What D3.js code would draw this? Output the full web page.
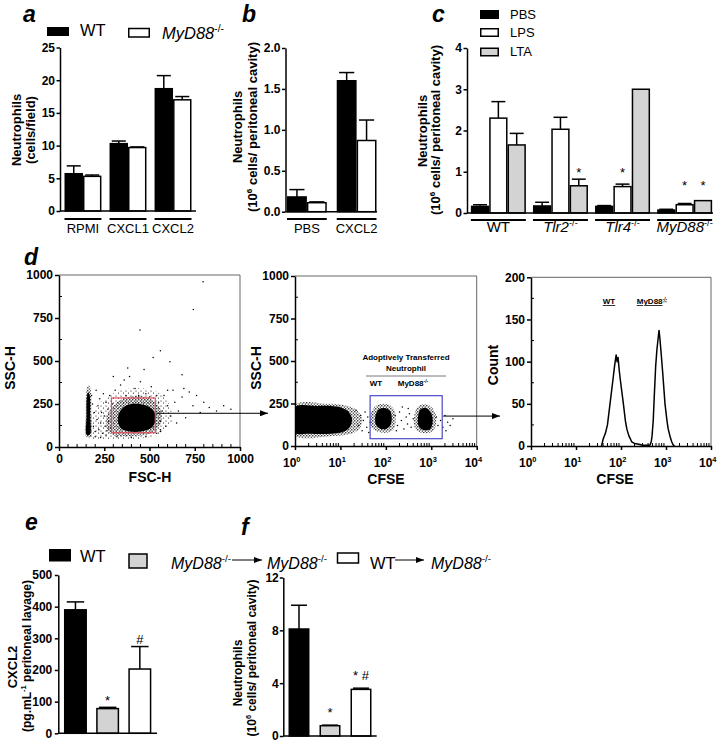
<!DOCTYPE html>
<html><head><meta charset="utf-8">
<script src="https://cdn.jsdelivr.net/npm/d3@7"></script>
<style>body{margin:0;background:#fff}</style>
</head><body><script>
// ================= DATA =================
// Panel a
const aGroups = ["RPMI","CXCL1","CXCL2"];
const aSeries = ["WT","MyD88"];
const aWT = [5.7,10.3,18.7];
const aMyD = [5.3,9.7,17.0];
const aWTerr = [6.9,10.7,20.7];
const aMyDerr = [5.5,9.8,17.5];
const aTicks = [0,5,10,15,20,25];
// Panel b
const bGroups = ["PBS","CXCL2"];
const bWT = [0.18,1.60];
const bMyD = [0.11,0.87];
const bWTerr = [0.27,1.70];
const bMyDerr = [0.12,1.12];
const bTicks = [0,0.5,1.0,1.5,2.0];
// Panel c
const cGroups = ["WT","Tlr2","Tlr4","MyD88"];
const cSeries = ["PBS","LPS","LTA"];
const cPBS = [0.16,0.17,0.16,0.07];
const cLPS = [2.30,2.03,0.64,0.20];
const cLTA = [1.65,0.66,3.00,0.30];
const cPBSerr = [0.20,0.26,0.18,0.09];
const cLPSerr = [2.70,2.32,0.70,0.23];
const cLTAerr = [1.93,0.82,3.00,0.30];
const cStarLPS = [null,null,0.87,0.56];
const cStarLTA = [null,0.87,null,0.56];
const cTicks = [0,1,2,3,4];
// Panel d - dot plot 1 (FSC-H vs SSC-H)
const p1Ticks = [0,250,500,750,1000];
const p1StreakCore = [[153,72],[171,72],[173,180],[170,300],[162,318],[155,300],[152,180]];
const p1StreakHalo = [[150,58],[176,60],[179,200],[175,335],[164,360],[153,335],[148,200]];
const p1Halo1 = [[178,55],[300,42],[450,48],[560,78],[625,150],[600,265],[520,330],[400,342],[300,312],[230,262],[182,200]];
const p1Halo2 = [[290,72],[400,64],[520,84],[566,150],[552,240],[472,292],[370,286],[300,242],[262,172],[266,100]];
const p1Core = [[340,110],[390,90],[460,92],[515,115],[535,165],[520,215],[470,245],[400,250],[350,225],[325,170]];
const p1Dots = [[180,300],[185,250],[190,120],[195,200],[200,90],[205,330],[210,160],[215,240],[220,100],[225,280],[230,140],[235,200],[240,80],[245,310],[250,180],[255,120],[260,260],[265,95],[270,220],[275,150],[280,300],[285,110],[290,190],[295,250],[200,60],[230,55],[260,70],
 [310,330],[340,360],[370,300],[390,410],[420,340],[450,380],[480,310],[510,350],[540,300],[360,390],[440,300],[500,290],
 [550,260],[560,150],[570,210],[580,300],[590,120],[600,240],[615,180],[630,330],[640,260],[650,140],[660,210],[680,290],[700,170],[720,320],[740,240],[760,300],[780,200],[800,260],[830,230],[870,210],[910,240],[950,220],[560,100],[600,330],[690,340],
 [796,961],[742,800],[447,680],[613,496],[520,520],[470,450],[380,460],[300,410],[680,420],[560,560],
 [320,60],[400,55],[480,60],[540,80],[560,90]];
const p1Gate = [290,532,83,285];
// Panel d - dot plot 2 (CFSE vs SSC-H)
const p2XTicks = [1,10,100,1000,10000];
const p2XExp = ["0","1","2","3","4"];
const p2YTicks = [0,250,500,750,1000];
const p2BigCore = [[1,78],[1,228],[3,236],[7,234],[11,224],[15,202],[18,160],[16,110],[12,85],[6,72],[2,72]];
const p2BigHalo = [[1,62],[1,242],[5,248],[12,240],[22,215],[30,160],[26,100],[16,70],[6,58]];
const p2WTCore = [[58,150],[62,195],[75,220],[100,222],[125,205],[135,165],[125,120],[100,100],[75,102],[62,120]];
const p2WTHalo = [[45,140],[50,210],[70,245],[110,245],[150,215],[165,160],[150,100],[110,80],[70,82],[50,105]];
const p2MyDCore = [[520,120],[510,170],[560,210],[700,225],[900,210],[1050,175],[1060,130],[950,100],[750,92],[600,100]];
const p2MyDHalo = [[430,110],[420,170],[480,225],[700,245],[1000,230],[1250,185],[1250,120],[1050,85],[750,75],[520,85]];
const p2Dots = [[22,210],[25,120],[28,180],[30,90],[32,150],[35,200],[38,110],[40,170],[42,80],[45,140],[160,180],[180,120],[200,200],[220,150],[250,100],[280,170],[300,130],[330,190],[360,110],[400,160],[1300,170],[1400,120],[1600,150],[1800,110],[2000,180],[2300,140],[2600,120],[3000,160],[170,90],[230,230],[310,220],[2100,90]];
const p2Gate = [45,1740,43,296];
// Panel d - histogram
const p3YTicks = [0,50,100,150,200];
const histCFSE = [37,40,45,50,57,65,72,78,82,86,92,100,113,125,135,150,173,200,250,300,380,440,470,490,520,550,590,630,670,700,730,780,850,950,1050,1120,1250,1340,1450,1550];
const histCount = [0,8,15,25,50,75,95,108,100,105,88,72,50,30,20,12,5,3,2,1,1,1,5,12,30,60,95,115,128,137,128,110,85,50,30,20,10,5,1,0];
// Panel e
const eGroups = ["WT","MyD88>MyD88","WT>MyD88"];
const eValues = [390,78,203];
const eErr = [415,82,274];
const eMarks = ["","*","#"];
const eMarkLevel = [null,88,282];
const eTicks = [0,100,200,300,400,500];
// Panel f
const fValues = [8.1,0.78,3.53];
const fErr = [9.9,0.82,3.62];
const fMarks = ["","*","* #"];
const fMarkLevel = [null,1.41,4.22];
const fTicks = [0,4,8,12];

// ================= DRAW =================
const FONT = '"Liberation Sans", Arial, sans-serif';
const svg = d3.select("body").append("svg").attr("width",723).attr("height",744);
const defs = svg.append("defs");
defs.append("marker").attr("id","arr").attr("viewBox","0 0 8 6").attr("refX",8).attr("refY",3)
  .attr("markerWidth",8).attr("markerHeight",6).attr("markerUnits","userSpaceOnUse").attr("orient","auto")
  .append("path").attr("d","M0,0L8,3L0,6Z").attr("fill","#000");
// speckle textures to imitate scattered events
const sp1=defs.append("pattern").attr("id","sp1").attr("width",5).attr("height",5).attr("patternUnits","userSpaceOnUse");
[[1,1],[3.5,3]].forEach(p=>sp1.append("circle").attr("cx",p[0]).attr("cy",p[1]).attr("r",0.55).attr("fill","#000"));
const sp2=defs.append("pattern").attr("id","sp2").attr("width",3).attr("height",3).attr("patternUnits","userSpaceOnUse");
[[0.8,0.8],[2.3,2.1]].forEach(p=>sp2.append("circle").attr("cx",p[0]).attr("cy",p[1]).attr("r",0.7).attr("fill","#000"));

function rich(x,y,parts,o={}){
  const size=o.size||12;
  const t=svg.append("text").attr("font-family",FONT).attr("font-size",size)
    .attr("font-weight",o.bold?"bold":"normal").attr("text-anchor",o.anchor||"start").attr("fill","#000");
  if(o.rotate) t.attr("transform",`translate(${x},${y}) rotate(-90)`); else t.attr("x",x).attr("y",y);
  if(o.ul) t.attr("text-decoration","underline");
  let up=false;
  (Array.isArray(parts)?parts:[parts]).forEach(p=>{
    if(typeof p==="string") p={t:p};
    const ts=t.append("tspan");
    if(p.sup!==undefined){ ts.text(p.sup).attr("font-size",size*0.62); if(!up){ts.attr("dy",-size*0.42); up=true;} }
    else { ts.text(p.t); if(p.it) ts.attr("font-style","italic"); if(up){ts.attr("dy",size*0.42); up=false;} }
  });
  return t;
}
function letter(x,y,s){ svg.append("text").attr("x",x).attr("y",y).attr("font-family",FONT).attr("font-size",23)
  .attr("font-weight","bold").attr("font-style","italic").text(s); }
function styleAxis(g,fs){
  g.select(".domain").attr("stroke","#000").attr("stroke-width",1.5);
  g.selectAll(".tick line").attr("stroke","#000").attr("stroke-width",1.5);
  g.selectAll(".tick text").attr("font-family",FONT).attr("font-weight","bold").attr("font-size",fs).attr("fill","#000");
}
function barChart(o){
  const xg=d3.scaleBand().domain(o.groups).range(o.xr).paddingInner(o.pi).paddingOuter(o.po);
  const xs=d3.scaleBand().domain(o.series).range([0,xg.bandwidth()]);
  const y=d3.scaleLinear().domain(o.yd).range(o.yr);
  const g=svg.append("g");
  o.series.forEach((s,j)=>{
    o.groups.forEach((gr,i)=>{
      const v=o.values[j][i], e=o.errs[j][i];
      const bw=xs.bandwidth(), bx=xg(gr)+xs(s), cx=bx+bw/2;
      if(e>v){
        g.append("line").attr("x1",cx).attr("x2",cx).attr("y1",y(v)).attr("y2",y(e)).attr("stroke","#000").attr("stroke-width",1.5);
        g.append("line").attr("x1",cx-bw*0.38).attr("x2",cx+bw*0.38).attr("y1",y(e)).attr("y2",y(e)).attr("stroke","#000").attr("stroke-width",1.5);
      }
      g.append("rect").attr("x",bx+0.75).attr("y",y(v)).attr("width",bw-1.5).attr("height",Math.max(0,y(0)-y(v)))
        .attr("fill",o.color(j,i)).attr("stroke","#000").attr("stroke-width",1.5);
    });
  });
  const ax=g.append("g").attr("transform",`translate(${o.xr[0]},0)`)
    .call(d3.axisLeft(y).tickValues(o.ticks).tickFormat(o.fmt).tickSize(3.5).tickSizeOuter(0).tickPadding(o.tp||1.5));
  styleAxis(ax,o.fs||12);
  g.append("line").attr("x1",o.xr[0]).attr("x2",o.baseEnd).attr("y1",y(0)).attr("y2",y(0)).attr("stroke","#000").attr("stroke-width",1.5);
  if(o.ulY){
    o.groups.forEach(gr=>{
      g.append("line").attr("x1",xg(gr)).attr("x2",xg(gr)+xg.bandwidth()).attr("y1",o.ulY).attr("y2",o.ulY).attr("stroke","#000").attr("stroke-width",2);
    });
  }
  return {xg,xs,y};
}

// ---------- Panel a ----------
letter(23,22,"a");
svg.append("rect").attr("x",47).attr("y",27).attr("width",22).attr("height",9).attr("fill","#000");
rich(80,36,"WT",{size:16.5});
svg.append("rect").attr("x",128.75).attr("y",28.5).attr("width",20.5).attr("height",8.5).attr("fill","#fff").attr("stroke","#000").attr("stroke-width",1.5);
rich(162,39,[{t:"MyD88",it:1},{sup:"-/-"}],{size:16.5});
const A=barChart({groups:aGroups,series:aSeries,values:[aWT,aMyD],errs:[aWTerr,aMyDerr],
  color:(j)=>j===0?"#000":"#fff",xr:[60,196],pi:0.18,po:0.1,yd:[0,25],yr:[211,47.5],ticks:aTicks,fmt:d3.format("d"),baseEnd:196,ulY:219});
aGroups.forEach(gr=>rich(A.xg(gr)+A.xg.bandwidth()/2,233,gr,{size:13,anchor:"middle"}));
rich(21,130,"Neutrophils",{rotate:1,bold:1,size:13,anchor:"middle"});
rich(35,130,"(cells/field)",{rotate:1,bold:1,size:13,anchor:"middle"});

// ---------- Panel b ----------
letter(242,22,"b");
const B=barChart({groups:bGroups,series:aSeries,values:[bWT,bMyD],errs:[bWTerr,bMyDerr],
  color:(j)=>j===0?"#000":"#fff",xr:[285.5,378],pi:0.2,po:0.03,yd:[0,2],yr:[211.7,48],ticks:bTicks,fmt:d3.format(".1f"),baseEnd:377,ulY:219});
bGroups.forEach(gr=>rich(B.xg(gr)+B.xg.bandwidth()/2,233,gr,{size:13,anchor:"middle"}));
rich(242,127,"Neutrophils",{rotate:1,bold:1,size:13,anchor:"middle"});
rich(257,127,["(10",{sup:"6"}," cells/ peritoneal cavity)"],{rotate:1,bold:1,size:13,anchor:"middle"});

// ---------- Panel c ----------
letter(432,22,"c");
const cFill=["#000","#fff","#d3d3d3"];
const cLegY=[10,28,47.5];
cSeries.forEach((s,j)=>{
  svg.append("rect").attr("x",480.75).attr("y",cLegY[j]+0.75).attr("width",17.5).attr("height",7.5).attr("fill",cFill[j]).attr("stroke","#000").attr("stroke-width",1.5);
  rich(510,cLegY[j]+8.5,s,{size:13});
});
const C=barChart({groups:cGroups,series:cSeries,values:[cPBS,cLPS,cLTA],errs:[cPBSerr,cLPSerr,cLTAerr],
  color:(j)=>cFill[j],xr:[467,716],pi:0.114,po:0.062,yd:[0,4],yr:[213,48],ticks:cTicks,fmt:d3.format("d"),baseEnd:713,ulY:220});
cGroups.forEach((gr,i)=>{
  [[cStarLPS,"LPS"],[cStarLTA,"LTA"]].forEach(([arr,s])=>{
    if(arr[i]!=null) rich(C.xg(gr)+C.xs(s)+C.xs.bandwidth()/2,C.y(arr[i]),"*",{size:13,anchor:"middle"});
  });
});
const cLabels=[["WT"],[{t:"Tlr2",it:1},{sup:"-/-"}],[{t:"Tlr4",it:1},{sup:"-/-"}],[{t:"MyD88",it:1},{sup:"-/-"}]];
cGroups.forEach((gr,i)=>rich(C.xg(gr)+C.xg.bandwidth()/2,232,cLabels[i],{size:15,anchor:"middle"}));
rich(427,131,"Neutrophils",{rotate:1,bold:1,size:13,anchor:"middle"});
rich(440,130,["(10",{sup:"6"}," cells/ peritoneal cavity)"],{rotate:1,bold:1,size:13,anchor:"middle"});

// ---------- Panel d ----------
letter(24,265,"d");
const blobLine=(x,y)=>d3.line().curve(d3.curveCatmullRomClosed).x(d=>x(d[0])).y(d=>y(d[1]));
function frame(x,y,id){
  const [x0,x1]=x.range(), [y0,y1]=y.range();
  defs.append("clipPath").attr("id",id).append("rect").attr("x",x0).attr("y",y1).attr("width",x1-x0).attr("height",y0-y1);
  svg.append("line").attr("x1",x0).attr("x2",x1).attr("y1",y1).attr("y2",y1).attr("stroke","#666").attr("stroke-width",1);
  svg.append("line").attr("x1",x1).attr("x2",x1).attr("y1",y1).attr("y2",y0).attr("stroke","#666").attr("stroke-width",1);
  return svg.append("g").attr("clip-path",`url(#${id})`);
}
function minorY(x,y,vals){
  vals.forEach(v=>svg.append("line").attr("x1",x.range()[0]).attr("x2",x.range()[0]+3).attr("y1",y(v)).attr("y2",y(v)).attr("stroke","#000").attr("stroke-width",1));
}
function minorX(x,y,vals){
  vals.forEach(v=>svg.append("line").attr("x1",x(v)).attr("x2",x(v)).attr("y1",y.range()[0]).attr("y2",y.range()[0]-3).attr("stroke","#000").attr("stroke-width",1));
}
function logMinor(){ const m=[]; [1,10,100,1000].forEach(d=>{for(let k=2;k<=9;k++) m.push(d*k);}); return m; }
function logLabels(x,yb){
  p2XTicks.forEach((v,i)=>rich(x(v)-12,yb,["10",{sup:p2XExp[i]}],{size:12,bold:1}));
}
const fmtInt=d3.format("d");

// plot 1
const x1=d3.scaleLinear().domain([0,1000]).range([59,240]);
const y1=d3.scaleLinear().domain([0,1000]).range([447,275]);
const g1=frame(x1,y1,"c1");
const bl1=blobLine(x1,y1);
g1.append("path").attr("d",bl1(p1Halo1)).attr("fill","url(#sp1)");
g1.append("path").attr("d",bl1(p1Halo2)).attr("fill","url(#sp2)");
g1.append("path").attr("d",bl1(p1StreakHalo)).attr("fill","url(#sp2)");
g1.append("path").attr("d",bl1(p1StreakCore)).attr("fill","#000");
g1.append("path").attr("d",bl1(p1Core)).attr("fill","#000");
g1.selectAll("circle.d").data(p1Dots).enter().append("circle").attr("cx",d=>x1(d[0])).attr("cy",d=>y1(d[1])).attr("r",0.75).attr("fill","#000");
svg.append("rect").attr("x",x1(p1Gate[0])).attr("y",y1(p1Gate[3])).attr("width",x1(p1Gate[1])-x1(p1Gate[0])).attr("height",y1(p1Gate[2])-y1(p1Gate[3]))
  .attr("fill","none").attr("stroke","#e0505f").attr("stroke-width",1.2);
let ax1=svg.append("g").attr("transform","translate(59,0)").call(d3.axisLeft(y1).tickValues(p1Ticks).tickFormat(fmtInt).tickSize(4).tickSizeOuter(0).tickPadding(2));
styleAxis(ax1,12);
let bx1=svg.append("g").attr("transform","translate(0,447)").call(d3.axisBottom(x1).tickValues(p1Ticks).tickFormat(fmtInt).tickSize(4).tickSizeOuter(0).tickPadding(3));
styleAxis(bx1,12);
minorY(x1,y1,[125,375,625,875]);
minorX(x1,y1,d3.range(50,1000,50).filter(v=>v%250!==0));
rich(15,368,"SSC-H",{rotate:1,bold:1,size:14,anchor:"middle"});
rich(150,482,"FSC-H",{bold:1,size:14,anchor:"middle"});

// plot 2
const x2=d3.scaleLog().domain([1,10000]).range([295,476.7]);
const y2=d3.scaleLinear().domain([0,1000]).range([446,276]);
const g2=frame(x2,y2,"c2");
const bl2=blobLine(x2,y2);
g2.append("path").attr("d",bl2(p2BigHalo)).attr("fill","url(#sp2)");
g2.append("path").attr("d",bl2(p2WTHalo)).attr("fill","url(#sp2)");
g2.append("path").attr("d",bl2(p2MyDHalo)).attr("fill","url(#sp2)");
g2.append("path").attr("d",bl2(p2BigCore)).attr("fill","#000");
g2.append("path").attr("d",bl2(p2WTCore)).attr("fill","#000");
g2.append("path").attr("d",bl2(p2MyDCore)).attr("fill","#000");
g2.selectAll("circle.d").data(p2Dots).enter().append("circle").attr("cx",d=>x2(d[0])).attr("cy",d=>y2(d[1])).attr("r",0.75).attr("fill","#000");
svg.append("rect").attr("x",x2(p2Gate[0])).attr("y",y2(p2Gate[3])).attr("width",x2(p2Gate[1])-x2(p2Gate[0])).attr("height",y2(p2Gate[2])-y2(p2Gate[3]))
  .attr("fill","none").attr("stroke","#4a4ac8").attr("stroke-width",1.2);
let ax2=svg.append("g").attr("transform","translate(295,0)").call(d3.axisLeft(y2).tickValues(p2YTicks).tickFormat(fmtInt).tickSize(4).tickSizeOuter(0).tickPadding(2));
styleAxis(ax2,12);
let bx2=svg.append("g").attr("transform","translate(0,446)").call(d3.axisBottom(x2).tickValues(p2XTicks).tickFormat("").tickSize(4).tickSizeOuter(0));
styleAxis(bx2,12);
minorY(x2,y2,[125,375,625,875]);
minorX(x2,y2,logMinor());
logLabels(x2,467);
rich(261,368,"SSC-H",{rotate:1,bold:1,size:14,anchor:"middle"});
rich(386,484,"CFSE",{bold:1,size:14,anchor:"middle"});
rich(406,360,"Adoptively Transferred",{bold:1,size:8,anchor:"middle"});
rich(406,371,"Neutrophil",{bold:1,size:8,anchor:"middle"});
svg.append("line").attr("x1",366).attr("x2",446).attr("y1",376).attr("y2",376).attr("stroke","#555").attr("stroke-width",0.8);
rich(376,386,"WT",{bold:1,size:8,anchor:"middle"});
rich(413,386,["MyD88",{sup:"-/-"}],{bold:1,size:8,anchor:"middle"});

// plot 3
const x3=d3.scaleLog().domain([1,10000]).range([531,711]);
const y3=d3.scaleLinear().domain([0,200]).range([446,277.3]);
const g3=frame(x3,y3,"c3");
const hist=histCFSE.map((c,i)=>[c,histCount[i]]);
g3.append("path").attr("d",d3.line().x(d=>x3(d[0])).y(d=>y3(d[1]))(hist)).attr("fill","none").attr("stroke","#000").attr("stroke-width",1.5).attr("stroke-linejoin","round");
let ax3=svg.append("g").attr("transform","translate(531,0)").call(d3.axisLeft(y3).tickValues(p3YTicks).tickFormat(fmtInt).tickSize(4).tickSizeOuter(0).tickPadding(2));
styleAxis(ax3,12);
let bx3=svg.append("g").attr("transform","translate(0,446)").call(d3.axisBottom(x3).tickValues(p2XTicks).tickFormat("").tickSize(4).tickSizeOuter(0));
styleAxis(bx3,12);
minorY(x3,y3,[25,75,125,175]);
minorX(x3,y3,logMinor());
logLabels(x3,467);
rich(498,365,"Count",{rotate:1,bold:1,size:14,anchor:"middle"});
rich(615,484,"CFSE",{bold:1,size:14,anchor:"middle"});
rich(609,304,"WT",{bold:1,size:8,anchor:"middle",ul:1});
rich(652,304,["MyD88",{sup:"-/-"}],{bold:1,size:8,anchor:"middle",ul:1});

// arrows
svg.append("line").attr("x1",x1(p1Gate[1])+1).attr("x2",268).attr("y1",y1(196)).attr("y2",y1(196)).attr("stroke","#000").attr("stroke-width",1).attr("marker-end","url(#arr)");
svg.append("line").attr("x1",x2(p2Gate[1])+1).attr("x2",500).attr("y1",y2(176)).attr("y2",y2(176)).attr("stroke","#000").attr("stroke-width",1).attr("marker-end","url(#arr)");

// ---------- Panel e ----------
letter(25,530,"e");
const efFill=["#000","#d3d3d3","#fff"];
svg.append("rect").attr("x",49).attr("y",549).attr("width",22).attr("height",12.5).attr("fill","#000");
rich(80,562,"WT",{size:16.5});
svg.append("rect").attr("x",129).attr("y",554).attr("width",18).attr("height",14).attr("fill","#d3d3d3").attr("stroke","#000").attr("stroke-width",1.5);
rich(171,568.5,[{t:"MyD88",it:1},{sup:"-/-"}],{size:16});
svg.append("line").attr("x1",232).attr("x2",262).attr("y1",560).attr("y2",560).attr("stroke","#000").attr("stroke-width",1).attr("marker-end","url(#arr)");
rich(267,568.5,[{t:"MyD88",it:1},{sup:"-/-"}],{size:16});
svg.append("rect").attr("x",337.5).attr("y",553).attr("width",21).attr("height",10).attr("fill","#fff").attr("stroke","#000").attr("stroke-width",1.5);
rich(370,568.5,"WT",{size:16.5});
svg.append("line").attr("x1",395).attr("x2",424).attr("y1",560).attr("y2",560).attr("stroke","#000").attr("stroke-width",1).attr("marker-end","url(#arr)");
rich(431,568.5,[{t:"MyD88",it:1},{sup:"-/-"}],{size:16});

const E=barChart({groups:eGroups,series:["v"],values:[eValues],errs:[eErr],
  color:(j,i)=>efFill[i],xr:[58.3,157],pi:0.286,po:0.176,yd:[0,500],yr:[733.3,575],ticks:eTicks,fmt:d3.format("d"),baseEnd:157,fs:12,tp:2.5});
eGroups.forEach((gr,i)=>{ if(eMarks[i]) rich(E.xg(gr)+E.xg.bandwidth()/2,E.y(eMarkLevel[i]),eMarks[i],{size:13,anchor:"middle"}); });
rich(17,667,"CXCL2",{rotate:1,bold:1,size:13,anchor:"middle"});
rich(31,656,["(pg.mL",{sup:"-1"}," peritoneal lavage)"],{rotate:1,bold:1,size:12,anchor:"middle"});

// ---------- Panel f ----------
letter(241,535,"f");
const F=barChart({groups:eGroups,series:["v"],values:[fValues],errs:[fErr],
  color:(j,i)=>efFill[i],xr:[283.3,376.7],pi:0.323,po:0.168,yd:[0,12],yr:[736,577.5],ticks:fTicks,fmt:d3.format("d"),baseEnd:376.7,fs:12,tp:1});
eGroups.forEach((gr,i)=>{ if(fMarks[i]) rich(F.xg(gr)+F.xg.bandwidth()/2,F.y(fMarkLevel[i]),fMarks[i],{size:13,anchor:"middle"}); });
rich(242,673,"Neutrophils",{rotate:1,bold:1,size:12,anchor:"middle"});
rich(256,658,["(10",{sup:"6"}," cells/ peritoneal cavity)"],{rotate:1,bold:1,size:12,anchor:"middle"});
</script></body></html>
